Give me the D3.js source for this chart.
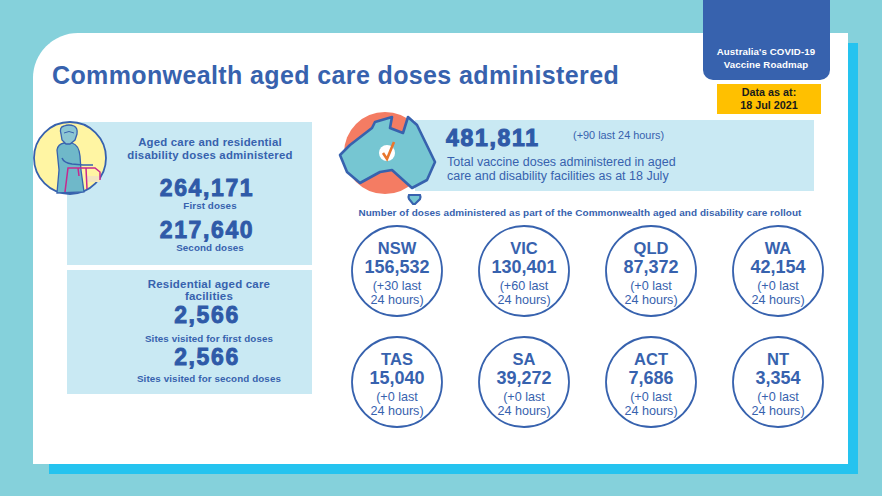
<!DOCTYPE html>
<html>
<head>
<meta charset="utf-8">
<script src="https://cdn.jsdelivr.net/npm/d3@7"></script>
<style>
html, body { margin: 0; padding: 0; background: #85d1db; }
svg { display: block; }
text { font-family: "Liberation Sans", Arial, sans-serif; }
</style>
</head>
<body>
<div id="chart"></div>
<script>
const states = ['NSW', 'VIC', 'QLD', 'WA', 'TAS', 'SA', 'ACT', 'NT'];
const stateDoses = [156532, 130401, 87372, 42154, 15040, 39272, 7686, 3354];
const stateLast24 = [30, 60, 0, 0, 0, 0, 0, 0];
const totalDoses = 481811;
const totalLast24 = 90;
const careDoses = [264171, 217640];
const careLabels = ['First doses', 'Second doses'];
const siteVisits = [2566, 2566];
const siteLabels = ['Sites visited for first doses', 'Sites visited for second doses'];

const blue = '#3762ae', deep = '#2f5aa8', pale = '#c9e9f3';
const fmt = d3.format(',');

const svg = d3.select('#chart').append('svg').attr('width', 882).attr('height', 496);

function label(x, y, str, size, opts = {}) {
    return svg.append('text')
        .attr('x', x).attr('y', y)
        .attr('text-anchor', opts.anchor || 'middle')
        .attr('font-size', size)
        .attr('font-weight', opts.weight || 'bold')
        .attr('fill', opts.fill || blue)
        .attr('stroke', opts.stroke ? (opts.fill || deep) : null)
        .attr('stroke-width', opts.stroke || null)
        .attr('letter-spacing', opts.spacing || null)
        .text(str);
}

// background card and its shadow
svg.append('rect').attr('x', 49).attr('y', 43).attr('width', 809).attr('height', 431).attr('fill', '#25c3ef');
svg.append('path').attr('fill', '#fff')
    .attr('d', 'M33 464V78a45 45 0 0 1 45-45H848V464Z');

// header tab
svg.append('path').attr('fill', blue)
    .attr('d', 'M703 0H830V70a10 10 0 0 1-10 10H713a10 10 0 0 1-10-10Z');
label(766, 55, "Australia's COVID-19", 9.7, {fill: '#fff', spacing: 0.1});
label(766, 68, 'Vaccine Roadmap', 9.7, {fill: '#fff', spacing: 0.1});
svg.append('rect').attr('x', 717).attr('y', 84).attr('width', 104).attr('height', 30).attr('fill', '#ffc000');
label(769, 96, 'Data as at:', 10.8, {fill: '#1a1a1a'});
label(769, 109, '18 Jul 2021', 10.8, {fill: '#1a1a1a'});

label(52, 84, 'Commonwealth aged care doses administered', 25, {anchor: 'start', spacing: 0.38});

// left panels
svg.append('rect').attr('x', 67).attr('y', 122).attr('width', 245).attr('height', 143).attr('fill', pale);
svg.append('rect').attr('x', 67).attr('y', 270).attr('width', 245).attr('height', 124).attr('fill', pale);

label(210, 146, 'Aged care and residential', 11.4, {spacing: 0.2});
label(210, 159, 'disability doses administered', 11.4, {spacing: 0.2});

const careY = d3.scalePoint().domain(careLabels).range([196, 238]);
careLabels.forEach((name, i) => {
    label(207, careY(name), fmt(careDoses[i]), 23, {fill: deep, stroke: 0.9, spacing: 1.6});
    label(210, careY(name) + 13, name, 9.8, {spacing: 0.1});
});

label(209, 288, 'Residential aged care', 11.5, {spacing: 0.2});
label(209, 300, 'facilities', 11.5, {spacing: 0.2});
const siteY = d3.scalePoint().domain(siteLabels).range([323, 365]);
siteLabels.forEach((name, i) => {
    label(207, siteY(name), fmt(siteVisits[i]), 23, {fill: deep, stroke: 0.9, spacing: 1.6});
    label(209, siteY(name) + 19 - i * 2, name, 9.8, {spacing: 0.1});
});

// elderly person badge
const person = svg.append('g');
person.append('circle').attr('cx', 70).attr('cy', 158).attr('r', 36).attr('fill', '#fff5a3').attr('stroke', blue).attr('stroke-width', 1.8);
const body = {fill: '#6fb8c9', stroke: blue, 'stroke-width': 1.3};
function shape(g, d, a) {
    const p = g.append('path').attr('d', d);
    Object.entries(a).forEach(([k, v]) => p.attr(k, v));
}
shape(person, 'M57 193L59 170L57 150Q58 144 64 143H72Q79 145 80 156L81 170L84 192Z', body);
shape(person, 'M61 134Q59 127 64 126Q69 124 74 126Q78 128 77 134L75 140L70 144H66L62 140Z', {fill: '#8cc6d3', stroke: blue, 'stroke-width': 1.3});
shape(person, 'M64 133Q69 130 74 133', {fill: 'none', stroke: blue, 'stroke-width': 1});
shape(person, 'M62 158Q64 163 72 164L83 165L93 165', {fill: 'none', stroke: blue, 'stroke-width': 1.5});
shape(person, 'M87 176H100V182H87Z', {fill: '#f3e6c0', stroke: 'none'});
shape(person, 'M65 192L68 168H95L100 172V180M78 168L79 176M86 168L87 189', {fill: 'none', stroke: '#c7288e', 'stroke-width': 1.5});

// total panel
svg.append('rect').attr('x', 415).attr('y', 120).attr('width', 399).attr('height', 71).attr('fill', pale);
const map = svg.append('g');
const outline = [[340,155],[350,145],[372,128],[375,122],[392,117],[390,128],[403,133],[408,117],[417,125],[435,162],[427,180],[412,188],[392,170],[380,172],[360,183],[347,172]];
const outlinePath = d3.line().curve(d3.curveLinearClosed)(outline);
map.append('circle').attr('cx', 385).attr('cy', 153).attr('r', 41).attr('fill', '#f47c63');
map.append('path').attr('d', outlinePath).attr('fill', '#76c6d2').attr('stroke', blue).attr('stroke-width', 2.6).attr('stroke-linejoin', 'round');
map.append('path').attr('d', 'M409 195H420Q421 197 420 199L415 204H413L409 199Q408 197 409 195Z').attr('fill', '#76c6d2').attr('stroke', blue).attr('stroke-width', 2.2);
map.append('circle').attr('cx', 387).attr('cy', 153).attr('r', 8).attr('fill', '#fff');
map.append('path').attr('d', 'M383 153L387 159L394 142').attr('fill', 'none').attr('stroke', '#e8762d').attr('stroke-width', 2.6);

label(446, 146, fmt(totalDoses), 23, {anchor: 'start', fill: deep, stroke: 1.1, spacing: 1.7});
label(573, 139, `(+${totalLast24} last 24 hours)`, 10.9, {anchor: 'start', weight: 'normal'});
label(447, 166, 'Total vaccine doses administered in aged', 12.5, {anchor: 'start', weight: 'normal'});
label(447, 180, 'care and disability facilities as at 18 July', 12.5, {anchor: 'start', weight: 'normal'});
label(580, 216, 'Number of doses administered as part of the Commonwealth aged and disability care rollout', 9.95, {spacing: 0.07});

// state circles
const xState = d3.scalePoint().domain(d3.range(4)).range([397, 778]);
const yState = d3.scalePoint().domain(d3.range(2)).range([271, 382]);
const cells = svg.selectAll('g.state')
    .data(states.map((name, i) => ({name, doses: stateDoses[i], last: stateLast24[i], col: i % 4, row: Math.floor(i / 4)})))
    .join('g')
    .attr('class', 'state')
    .attr('transform', d => `translate(${xState(d.col)},${yState(d.row)})`);

cells.append('circle').attr('r', 45).attr('fill', '#fff').attr('stroke', blue).attr('stroke-width', 1.8);
const cellText = (y, size, weight, fn) => cells.append('text')
    .attr('y', y).attr('text-anchor', 'middle')
    .attr('font-size', size).attr('font-weight', weight).attr('fill', blue)
    .text(fn);
cellText(-17, 16.5, 'bold', d => d.name);
cellText(2, 18, 'bold', d => fmt(d.doses));
cellText(19, 12.6, 'normal', d => `(+${d.last} last`);
cellText(33, 12.6, 'normal', () => '24 hours)');
</script>
</body>
</html>
